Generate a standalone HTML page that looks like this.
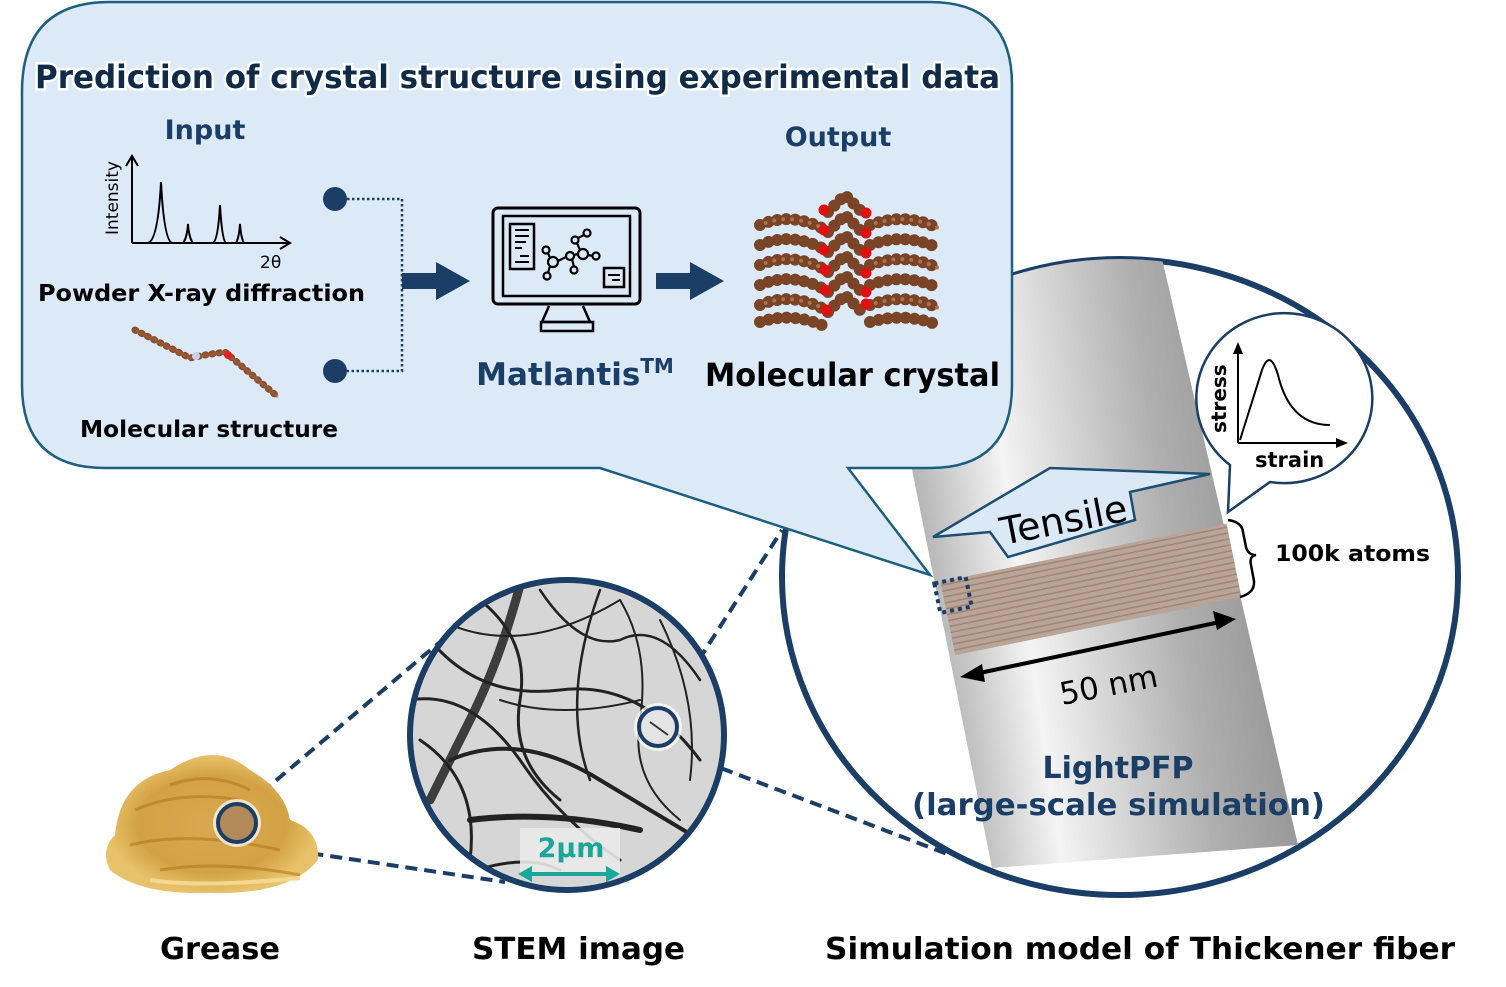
<!DOCTYPE html>
<html><head><meta charset="utf-8"><style>
html,body{margin:0;padding:0;background:#fff;}
svg{display:block;font-family:"DejaVu Sans","Liberation Sans",sans-serif;}
</style></head><body>
<svg width="1506" height="987" viewBox="0 0 1506 987" xmlns="http://www.w3.org/2000/svg">
<defs>
<linearGradient id="cyl" x1="0" y1="0" x2="1" y2="0" gradientTransform="rotate(-12 .5 .5)">
<stop offset="0" stop-color="#8a8a8a"/><stop offset="0.35" stop-color="#f4f4f4"/><stop offset="0.7" stop-color="#b0b0b0"/><stop offset="1" stop-color="#8c8c8c"/>
</linearGradient>
<clipPath id="bigc"><ellipse cx="1120" cy="577" rx="338" ry="318"/></clipPath>
<clipPath id="stemc"><ellipse cx="567" cy="735" rx="157" ry="155"/></clipPath>
<radialGradient id="gr" cx=".5" cy=".5" r=".5"><stop offset="0" stop-color="#d9a850"/><stop offset="0.7" stop-color="#d3a246"/><stop offset="1" stop-color="#e8c26a"/></radialGradient>
<pattern id="band" width="20" height="6" patternUnits="userSpaceOnUse"><rect width="20" height="6" fill="#b9a497"/><rect y="3" width="20" height="1.5" fill="#9d8679"/></pattern>
</defs>

<ellipse cx="1120" cy="577" rx="338" ry="318" fill="#fff" stroke="#1b3e66" stroke-width="6"/>
<g clip-path="url(#bigc)">
<polygon points="868,250 1160,250 1298,845 992,868" fill="url(#cyl)"/>
</g>
<g transform="rotate(-11.5 1090 590)">
<rect x="945" y="552" width="292" height="75" fill="url(#band)"/>
</g>
<rect x="937" y="580" width="32" height="30" fill="none" stroke="#1b3e66" stroke-width="4" stroke-dasharray="4 4" transform="rotate(-11.5 953 595)"/>
<path d="M1228,520 q14,2 15,12 l3,15 q2,8 10,8 q-7,1 -5,10 l3,16 q1,12 -14,16" fill="none" stroke="#000" stroke-width="2.5"/>
<text x="1275" y="561" font-size="22" font-weight="bold" textLength="155" lengthAdjust="spacingAndGlyphs">100k atoms</text>
<line x1="975" y1="674" x2="1220" y2="622" stroke="#000" stroke-width="4"/>
<polygon points="960,677 982,664 985,682" fill="#000"/>
<polygon points="1236,619 1213,611 1217,630" fill="#000"/>
<text x="1062" y="705" font-size="31" transform="rotate(-11 1062 705)">50 nm</text>
<text x="1118" y="778" font-size="30" font-weight="bold" fill="#1b3e66" text-anchor="middle">LightPFP</text>
<text x="912" y="815" font-size="30" font-weight="bold" fill="#1b3e66" textLength="413" lengthAdjust="spacingAndGlyphs">(large-scale simulation)</text>
<path d="M933,537 L1050,468 L1210,474 L1130,492 L1135,520 L1008,557 L990,532 Z" fill="#dbe8f6" stroke="#1b4f74" stroke-width="2.5"/>
<text x="1003" y="545" font-size="38" transform="rotate(-11 1003 545)">Tensile</text>
<path d="M1230,465 A88,85 0 1 1 1270,482 L1228,512 Z" fill="#fff" stroke="#1b3e66" stroke-width="2.5"/>
<g stroke="#000" stroke-width="2" fill="none">
<line x1="1238" y1="443" x2="1238" y2="350"/><line x1="1238" y1="443" x2="1340" y2="443"/>
<path d="M1240,440 L1262,370 Q1270,348 1278,375 Q1290,425 1330,425"/></g>
<polygon points="1238,342 1233,354 1243,354" fill="#000"/><polygon points="1348,443 1336,438 1336,448" fill="#000"/>
<text x="1226" y="433" font-size="20" font-weight="bold" transform="rotate(-90 1226 433)">stress</text>
<text x="1255" y="467" font-size="21" font-weight="bold">strain</text>

<path d="M110,2 H930 Q1012,2 1012,85 V385 Q1012,468 930,468 H848 L930,575 L600,468 H105 Q22,468 22,385 V92 Q22,2 110,2 Z" fill="#dce9f6" stroke="#1d5f80" stroke-width="2.5"/>
<text x="35" y="88" font-size="32" font-weight="bold" fill="#102b48" stroke="#fff" stroke-width="5" paint-order="stroke" textLength="965" lengthAdjust="spacingAndGlyphs">Prediction of crystal structure using experimental data</text>
<text x="205" y="139" font-size="27" font-weight="bold" fill="#1b3e66" text-anchor="middle">Input</text>
<text x="838" y="146" font-size="27" font-weight="bold" fill="#1b3e66" text-anchor="middle">Output</text>
<g stroke="#000" stroke-width="2" fill="none">
<line x1="132" y1="243" x2="132" y2="158"/><line x1="132" y1="243" x2="288" y2="243"/>
<path d="M148,243 Q158,240 161,182 Q164,240 172,243 M183,243 Q187,238 188,224 Q189,238 193,243 M213,243 Q218,240 220,205 Q222,240 226,243 M236,243 Q239,238 240,224 Q241,238 244,243"/></g>
<path d="M126,166 L132,156 L138,166 M280,237 L290,243 L280,249" fill="none" stroke="#000" stroke-width="2"/>
<text x="118" y="235" font-size="17" transform="rotate(-90 118 235)">Intensity</text>
<text x="260" y="268" font-size="17">2θ</text>
<text x="38" y="301" font-size="23" font-weight="bold" textLength="327" lengthAdjust="spacingAndGlyphs">Powder X-ray diffraction</text>
<path d="M135,330 L190,358 L205,355 L225,352 L278,397" stroke="#8a4e2e" stroke-width="7" stroke-linecap="round" stroke-dasharray="1 6" fill="none"/>
<path d="M135,330 L190,358 L225,352 L278,397" stroke="#a0603a" stroke-width="3" fill="none" opacity=".6"/>
<circle cx="228" cy="355" r="4" fill="#e02020"/><circle cx="196" cy="356" r="4" fill="#c8d0e8"/>
<text x="80" y="437" font-size="23" font-weight="bold" textLength="258" lengthAdjust="spacingAndGlyphs">Molecular structure</text>
<circle cx="335" cy="199" r="12" fill="#1b3e66"/><circle cx="335" cy="371" r="12" fill="#1b3e66"/>
<path d="M347,199 H402 V371 H347" fill="none" stroke="#1b3e66" stroke-width="2.5" stroke-dasharray="2.5 2.5"/>
<polygon points="402,273 436,273 436,262 470,281 436,300 436,289 402,289" fill="#1b3e66"/>
<polygon points="656,273 690,273 690,262 724,281 690,300 690,289 656,289" fill="#1b3e66"/>
<rect x="493" y="208" width="147" height="96" rx="5" fill="none" stroke="#000" stroke-width="3"/>
<rect x="503" y="216" width="127" height="80" fill="none" stroke="#000" stroke-width="2.5"/>
<path d="M549,306 L542,322 H590 L583,306" fill="none" stroke="#000" stroke-width="2.5"/>
<rect x="541" y="322" width="52" height="9" fill="none" stroke="#000" stroke-width="2.5"/>
<rect x="510" y="224" width="24" height="45" fill="none" stroke="#000" stroke-width="2.5"/>
<g stroke="#000" stroke-width="2"><line x1="515" y1="230" x2="529" y2="230"/><line x1="515" y1="236" x2="529" y2="236"/><line x1="515" y1="242" x2="526" y2="242"/><line x1="515" y1="248" x2="522" y2="248"/><line x1="520" y1="256" x2="529" y2="256"/><line x1="515" y1="262" x2="529" y2="262"/></g>
<rect x="604" y="268" width="20" height="19" fill="none" stroke="#000" stroke-width="2.5"/>
<line x1="608" y1="275" x2="620" y2="275" stroke="#000" stroke-width="2"/><line x1="612" y1="280" x2="620" y2="280" stroke="#000" stroke-width="2"/>
<g fill="none" stroke="#000" stroke-width="2.2">
<circle cx="553" cy="262" r="5"/><circle cx="570" cy="256" r="4"/><circle cx="583" cy="254" r="5"/><circle cx="575" cy="240" r="3.5"/><circle cx="587" cy="233" r="3.5"/><circle cx="596" cy="256" r="3.5"/><circle cx="574" cy="270" r="3.5"/><circle cx="547" cy="276" r="3.5"/><circle cx="546" cy="250" r="3.5"/>
<path d="M558,261 L566,257 M574,255 L578,254 M580,250 L577,243 M578,238 L584,235 M588,255 L593,256 M572,259 L574,267 M550,266 L548,273 M550,258 L548,253"/></g>
<text x="575" y="385" font-size="31" font-weight="bold" fill="#1b3e66" text-anchor="middle">Matlantis<tspan font-size="20" dy="-12">TM</tspan></text>
<g fill="none" stroke-linecap="round" stroke-dasharray="0 9">
<g stroke="#7a4426" stroke-width="12">
<path d="M760,225 Q790,212 822,228 M760,245 Q790,232 822,248 M760,265 Q790,252 822,268 M760,285 Q790,272 822,288 M760,305 Q790,292 822,308 M760,322 Q790,312 822,325"/>
<path d="M870,225 Q905,212 938,228 M870,245 Q905,232 938,248 M870,265 Q905,252 938,268 M870,285 Q905,272 938,288 M870,305 Q905,292 938,308 M870,322 Q905,312 938,325"/>
<path d="M828,212 L845,195 L862,212 M828,232 L845,215 L862,232 M828,252 L845,235 L862,252 M828,272 L845,255 L862,272 M828,292 L845,275 L862,292 M828,312 L845,295 L862,312"/>
</g>
<g stroke="#b07050" stroke-width="4" stroke-dashoffset="3">
<path d="M760,225 Q790,212 822,228 M760,265 Q790,252 822,268 M760,305 Q790,292 822,308 M870,225 Q905,212 938,228 M870,265 Q905,252 938,268 M870,305 Q905,292 938,308"/></g>
</g>
<g fill="#e01010"><circle cx="824" cy="210" r="5.5"/><circle cx="824" cy="230" r="5.5"/><circle cx="824" cy="250" r="5.5"/><circle cx="825" cy="270" r="5.5"/><circle cx="825" cy="290" r="5.5"/><circle cx="826" cy="310" r="5.5"/>
<circle cx="866" cy="213" r="5.5"/><circle cx="866" cy="233" r="5.5"/><circle cx="866" cy="253" r="5.5"/><circle cx="866" cy="273" r="5.5"/><circle cx="866" cy="292" r="5.5"/><circle cx="866" cy="304" r="5.5"/></g>
<text x="705" y="386" font-size="32" font-weight="bold" textLength="295" lengthAdjust="spacingAndGlyphs">Molecular crystal</text>

<g stroke="#1b3e66" stroke-width="4" stroke-dasharray="12 7" fill="none">
<line x1="247" y1="805" x2="440" y2="642"/><line x1="255" y1="845" x2="505" y2="882"/>
<line x1="668" y1="708" x2="782" y2="530"/><line x1="668" y1="748" x2="950" y2="855"/>
</g>
<g clip-path="url(#stemc)">
<rect x="400" y="570" width="340" height="330" fill="#d6d6d6"/>
<g fill="none" stroke="#222" stroke-linecap="round">
<path d="M520,585 Q500,660 470,720 Q450,760 430,800" stroke-width="9" opacity=".85"/>
<path d="M430,640 Q480,700 560,690 Q640,680 700,760" stroke-width="3"/>
<path d="M450,760 Q520,730 600,780 Q650,810 700,840" stroke-width="4"/>
<path d="M410,700 Q470,690 520,760 Q560,820 620,860" stroke-width="3"/>
<path d="M470,820 Q550,810 640,830" stroke-width="6"/>
<path d="M540,590 Q580,650 620,640 Q660,620 700,680" stroke-width="2.5"/>
<path d="M600,590 Q560,700 590,780" stroke-width="2.5"/>
<path d="M480,600 Q530,640 520,700 Q510,760 560,800" stroke-width="3"/>
<path d="M420,740 Q480,780 470,860" stroke-width="3"/>
<path d="M620,600 Q650,650 640,720 Q630,780 680,820" stroke-width="2"/>
<path d="M440,620 Q520,660 620,600" stroke-width="2"/>
<path d="M450,880 Q520,850 560,870" stroke-width="3"/>
<path d="M660,620 Q700,700 690,780" stroke-width="2"/>
<path d="M500,700 Q560,720 640,700" stroke-width="2"/>
</g>
<rect x="520" y="828" width="100" height="48" fill="#eaeaea" opacity=".9"/>
</g>
<ellipse cx="567" cy="735" rx="157" ry="155" fill="none" stroke="#1b3e66" stroke-width="6"/>
<text x="571" y="857" font-size="27" font-weight="bold" fill="#1aa79a" text-anchor="middle">2μm</text>
<line x1="530" y1="874" x2="608" y2="874" stroke="#1aa79a" stroke-width="4"/>
<polygon points="518,874 532,866 532,882" fill="#1aa79a"/><polygon points="620,874 606,866 606,882" fill="#1aa79a"/>
<circle cx="658" cy="727" r="24" fill="#fff" opacity=".7"/>
<circle cx="658" cy="727" r="19" fill="#e4e4e4" stroke="#1b3e66" stroke-width="4"/>
<line x1="650" y1="722" x2="668" y2="735" stroke="#333" stroke-width="2"/>
<path d="M115,835 Q120,780 170,770 Q215,740 250,770 Q285,790 290,820 Q320,830 318,860 Q290,895 210,893 Q140,895 110,870 Q100,850 115,835 Z" fill="url(#gr)"/>
<path d="M135,810 Q180,790 240,800 M130,845 Q190,830 280,850 M160,870 Q220,860 300,875 M170,785 Q210,770 250,790" stroke="#b07a20" stroke-width="3" fill="none" opacity=".6"/>
<path d="M150,880 Q200,888 300,878" stroke="#f3d98f" stroke-width="4" fill="none"/>
<circle cx="237" cy="823" r="24" fill="#fff" opacity=".7"/>
<circle cx="237" cy="823" r="19" fill="#b28a5a" stroke="#1b3e66" stroke-width="4"/>
<g font-size="30" font-weight="bold" fill="#000">
<text x="160" y="959" textLength="120" lengthAdjust="spacingAndGlyphs">Grease</text>
<text x="472" y="959" textLength="213" lengthAdjust="spacingAndGlyphs">STEM image</text>
<text x="825" y="959" textLength="630" lengthAdjust="spacingAndGlyphs">Simulation model of Thickener fiber</text>
</g>
</svg>
</body></html>
